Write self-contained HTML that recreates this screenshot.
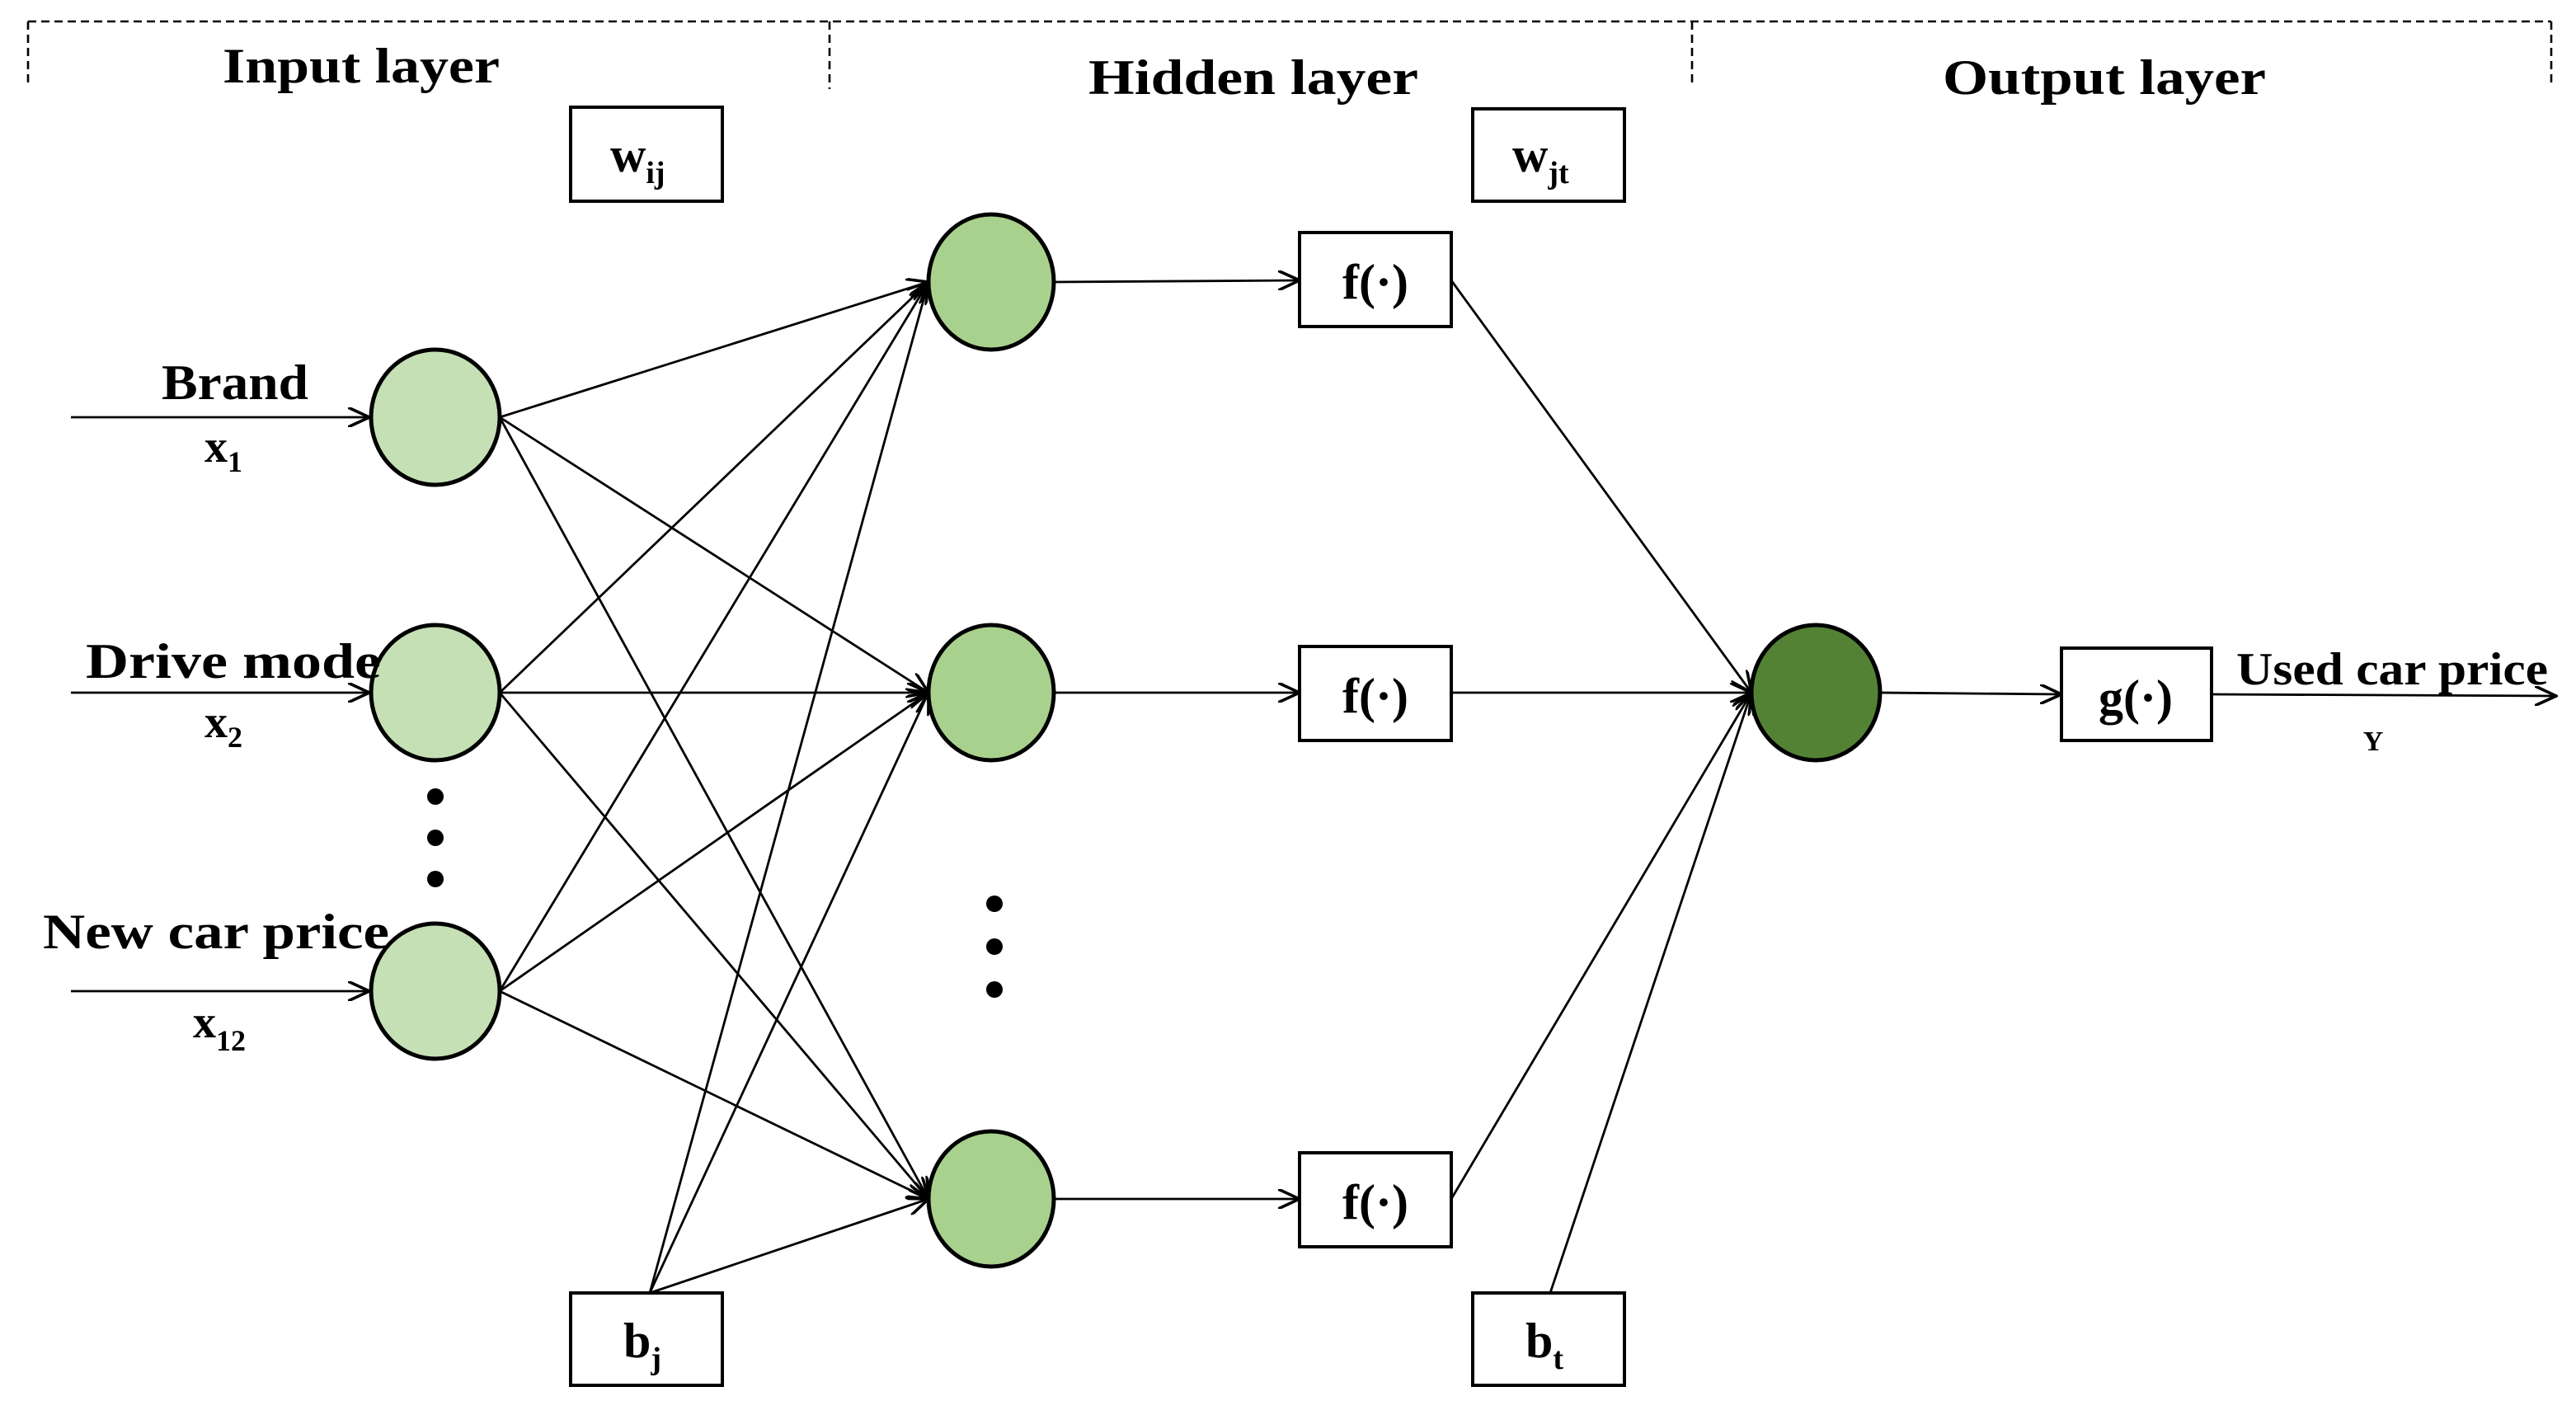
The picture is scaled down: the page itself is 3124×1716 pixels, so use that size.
<!DOCTYPE html>
<html><head><meta charset="utf-8"><style>
html,body{margin:0;padding:0;background:#fff;}
svg{display:block;}
text{font-family:"Liberation Serif",serif;font-weight:bold;fill:#000;}
</style></head><body>
<svg width="3124" height="1716" viewBox="0 0 1562 858" xmlns="http://www.w3.org/2000/svg">
<defs>
<marker id="a" markerWidth="14" markerHeight="12" refX="13" refY="6" orient="auto" markerUnits="userSpaceOnUse">
<path d="M0,0 L13,6 L0,12" fill="none" stroke="#000" stroke-width="1.8"/>
</marker>
</defs>
<g stroke="#000" stroke-width="1.3" stroke-dasharray="5,3" fill="none">
<line x1="17" y1="13" x2="1547" y2="13"/>
<line x1="17" y1="13" x2="17" y2="52"/>
<line x1="503" y1="13" x2="503" y2="54"/>
<line x1="1026" y1="13" x2="1026" y2="52"/>
<line x1="1547" y1="13" x2="1547" y2="52"/>
</g>
<text x="135" y="50" font-size="30" textLength="168" lengthAdjust="spacingAndGlyphs">Input layer</text>
<text x="660" y="57" font-size="30" textLength="200" lengthAdjust="spacingAndGlyphs">Hidden layer</text>
<text x="1178" y="57" font-size="30" textLength="196" lengthAdjust="spacingAndGlyphs">Output layer</text>

<g fill="#fff" stroke="#000" stroke-width="2">
<rect x="346" y="65" width="92" height="57"/>
<rect x="893" y="66" width="92" height="56"/>
<rect x="788" y="141" width="92" height="57"/>
<rect x="788" y="392" width="92" height="57"/>
<rect x="788" y="699" width="92" height="57"/>
<rect x="1250" y="393" width="91" height="56"/>
<rect x="346" y="784" width="92" height="56"/>
<rect x="893" y="784" width="92" height="56"/>
</g>
<text x="370" y="104" font-size="30">w<tspan font-size="19" dy="7">ij</tspan></text>
<text x="917" y="104" font-size="30">w<tspan font-size="19" dy="7">jt</tspan></text>
<text x="834" y="181" font-size="30" text-anchor="middle">f(·)</text>
<text x="834" y="432" font-size="30" text-anchor="middle">f(·)</text>
<text x="834" y="739" font-size="30" text-anchor="middle">f(·)</text>
<text x="1295" y="433" font-size="30" text-anchor="middle">g(·)</text>
<text x="378" y="823" font-size="30">b<tspan font-size="19" dy="7">j</tspan></text>
<text x="925" y="823" font-size="30">b<tspan font-size="19" dy="7">t</tspan></text>

<g stroke="#000" stroke-width="1.4" fill="none" marker-end="url(#a)">
<line x1="303" y1="253" x2="563" y2="171"/>
<line x1="303" y1="253" x2="563" y2="420"/>
<line x1="303" y1="253" x2="563" y2="727"/>
<line x1="303" y1="420" x2="563" y2="171"/>
<line x1="303" y1="420" x2="563" y2="420"/>
<line x1="303" y1="420" x2="563" y2="727"/>
<line x1="303" y1="601" x2="563" y2="171"/>
<line x1="303" y1="601" x2="563" y2="420"/>
<line x1="303" y1="601" x2="563" y2="727"/>
<line x1="394" y1="784" x2="563" y2="171"/>
<line x1="394" y1="784" x2="563" y2="420"/>
<line x1="394" y1="784" x2="563" y2="727"/>
<line x1="640" y1="171" x2="788" y2="170"/>
<line x1="640" y1="420" x2="788" y2="420"/>
<line x1="640" y1="727" x2="788" y2="727"/>
<line x1="880" y1="170" x2="1062" y2="420"/>
<line x1="880" y1="420" x2="1062" y2="420"/>
<line x1="880" y1="727" x2="1062" y2="420"/>
<line x1="940" y1="784" x2="1062" y2="420"/>
<line x1="1140" y1="420" x2="1250" y2="421"/>
<line x1="1341" y1="421" x2="1550" y2="422"/>
<line x1="43" y1="253" x2="224" y2="253"/>
<line x1="43" y1="420" x2="224" y2="420"/>
<line x1="43" y1="601" x2="224" y2="601"/>
</g>

<g stroke="#000" stroke-width="2.5">
<ellipse cx="264" cy="253" rx="39" ry="41" fill="#c5e0b4"/>
<ellipse cx="264" cy="420" rx="39" ry="41" fill="#c5e0b4"/>
<ellipse cx="264" cy="601" rx="39" ry="41" fill="#c5e0b4"/>
<ellipse cx="601" cy="171" rx="38" ry="41" fill="#a9d18e"/>
<ellipse cx="601" cy="420" rx="38" ry="41" fill="#a9d18e"/>
<ellipse cx="601" cy="727" rx="38" ry="41" fill="#a9d18e"/>
<ellipse cx="1101" cy="420" rx="39" ry="41" fill="#548235"/>
</g>
<g fill="#000">
<circle cx="264" cy="483" r="5"/><circle cx="264" cy="508" r="5"/><circle cx="264" cy="533" r="5"/>
<circle cx="603" cy="548" r="5"/><circle cx="603" cy="574" r="5"/><circle cx="603" cy="600" r="5"/>
</g>

<text x="98" y="242" font-size="30" textLength="89" lengthAdjust="spacingAndGlyphs">Brand</text>
<text x="124" y="280" font-size="28">x<tspan font-size="18" dy="6">1</tspan></text>
<text x="52" y="411" font-size="30" textLength="179" lengthAdjust="spacingAndGlyphs">Drive mode</text>
<text x="124" y="447" font-size="28">x<tspan font-size="18" dy="6">2</tspan></text>
<text x="26" y="575" font-size="30" textLength="210" lengthAdjust="spacingAndGlyphs">New car price</text>
<text x="117" y="629" font-size="28">x<tspan font-size="18" dy="8">12</tspan></text>
<text x="1356" y="415" font-size="28" textLength="189" lengthAdjust="spacingAndGlyphs">Used car price</text>
<text x="1439" y="455" font-size="17" font-weight="normal" text-anchor="middle">Y</text>
</svg>
</body></html>
